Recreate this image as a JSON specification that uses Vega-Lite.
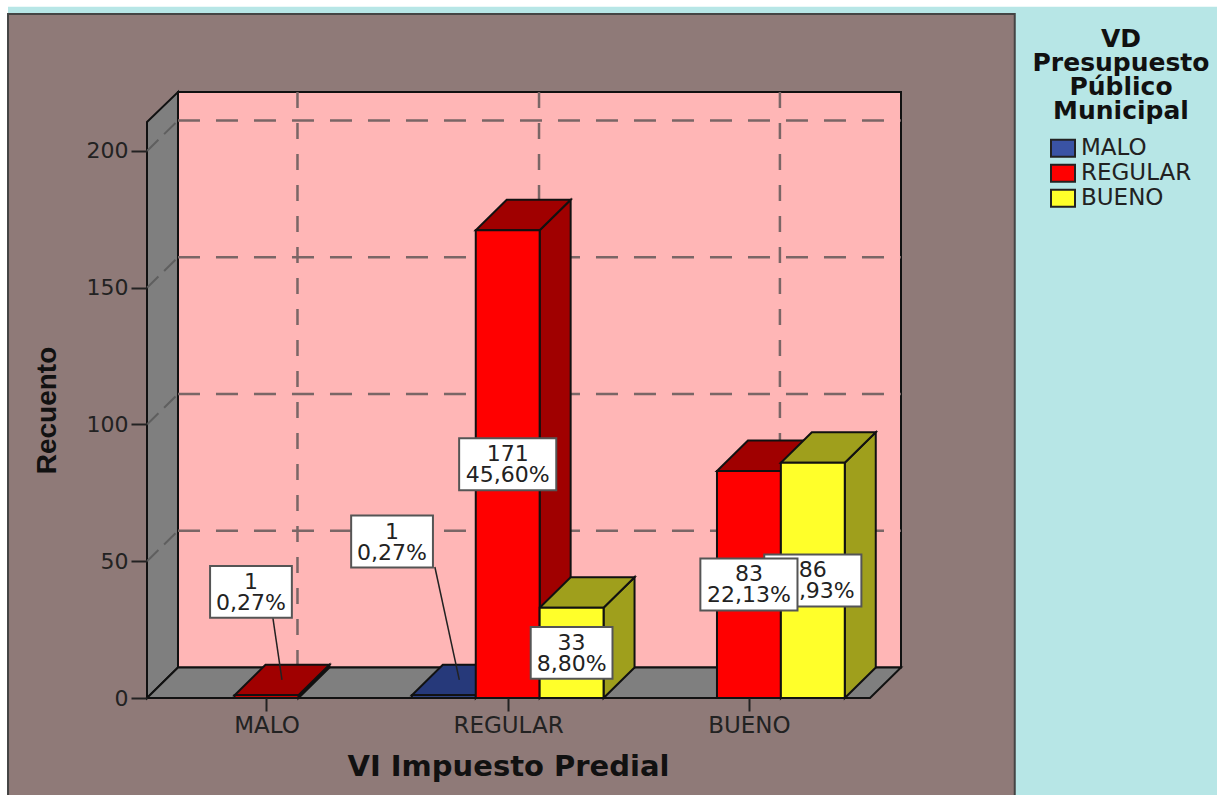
{
"$schema":"https://vega.github.io/schema/vega-lite/v6.json",
"width":754,"height":606,
"autosize":{"type":"none"},
"padding":{"left":147,"top":92,"right":316,"bottom":97},
"background":"#b7e6e6",
"config":{"view":{"stroke":null},"font":"DejaVu Sans","axis":{"grid":false,"domain":false,"title":null}},
"datasets":{
"bars":[
{"categoria":"MALO","serie":"REGULAR","recuento":1,"porcentaje":"0,27%"},
{"categoria":"REGULAR","serie":"MALO","recuento":1,"porcentaje":"0,27%"},
{"categoria":"REGULAR","serie":"REGULAR","recuento":171,"porcentaje":"45,60%"},
{"categoria":"REGULAR","serie":"BUENO","recuento":33,"porcentaje":"8,80%"},
{"categoria":"BUENO","serie":"REGULAR","recuento":83,"porcentaje":"22,13%"},
{"categoria":"BUENO","serie":"BUENO","recuento":86,"porcentaje":"22,93%"}
],
"edge":[{"e":0},{"e":1}],
"ticks":[{"t":50},{"t":100},{"t":150},{"t":200}],
"cats":[{"c":1.87},{"c":5.65},{"c":9.42}],
"one":[{"k":1}]
},
"layer":[
{"data":{"name":"one"},
"transform":[{"calculate":"-2.4","as":"a"},{"calculate":"16.75","as":"b"},{"calculate":"252.7","as":"c"},{"calculate":"257","as":"d"}],
"mark":{"type":"rect","fill":"#ffffff"},
"encoding":{
"x":{"field":"a","type":"quantitative","scale":{"domain":[0,11.8],"nice":false,"zero":false},
"axis":{"values":[1.87,5.65,9.42],"labelExpr":"datum.value<3?'MALO':datum.value<7?'REGULAR':'BUENO'","title":"VI Impuesto Predial","titleFontSize":29,"titleFont":"DejaVu Sans","titleFontWeight":"bold","titleColor":"#111","titleX":361,"titleY":77,"titleAlign":"center","titleBaseline":"alphabetic","labelFontSize":23,"labelColor":"#222","labelPadding":3,"tickSize":13,"tickColor":"#222","tickWidth":2,"domain":false,"grid":false,"zindex":1,"labelFlush":false,"labelOverlap":false}},
"x2":{"field":"b"},
"y":{"field":"c","type":"quantitative","scale":{"domain":[0,221.57],"nice":false,"zero":false},
"axis":{"values":[0,50,100,150,200],"title":"Recuento","titleFontSize":28,"titleFont":"Liberation Sans","titleFontWeight":"bold","titleColor":"#111","titleX":-92,"titleY":318,"titleAlign":"center","titleBaseline":"alphabetic","labelFontSize":22,"labelColor":"#222","labelPadding":3,"tickSize":16,"tickColor":"#222","tickWidth":2,"domain":false,"grid":false,"zindex":1}},
"y2":{"field":"d"}}},
{"data":{"name":"one"},
"transform":[{"calculate":"-2.4","as":"a"},{"calculate":"-2.175","as":"b"},{"calculate":"-36","as":"c"},{"calculate":"257","as":"d"}],
"mark":{"type":"rect","fill":"#ffffff"},
"encoding":{
"x":{"field":"a","type":"quantitative","scale":{"domain":[0,11.8],"nice":false,"zero":false}},
"x2":{"field":"b"},
"y":{"field":"c","type":"quantitative","scale":{"domain":[0,221.57],"nice":false,"zero":false}},
"y2":{"field":"d"}}},
{"data":{"name":"one"},
"transform":[{"calculate":"-2.175","as":"a"},{"calculate":"13.58","as":"b"},{"calculate":"-36","as":"c"},{"calculate":"250.1","as":"d"}],
"mark":{"type":"rect","fill":"#8f7a78","stroke":"#444444","strokeWidth":2},
"encoding":{
"x":{"field":"a","type":"quantitative","scale":{"domain":[0,11.8],"nice":false,"zero":false}},
"x2":{"field":"b"},
"y":{"field":"c","type":"quantitative","scale":{"domain":[0,221.57],"nice":false,"zero":false}},
"y2":{"field":"d"}}},
{"data":{"name":"one"},
"transform":[{"calculate":"0.485","as":"a"},{"calculate":"11.8","as":"b"},{"calculate":"11.15","as":"c"},{"calculate":"221.57","as":"d"}],
"mark":{"type":"rect","fill":"#ffb6b6","stroke":"#111111","strokeWidth":2},
"encoding":{
"x":{"field":"a","type":"quantitative","scale":{"domain":[0,11.8],"nice":false,"zero":false}},
"x2":{"field":"b"},
"y":{"field":"c","type":"quantitative","scale":{"domain":[0,221.57],"nice":false,"zero":false}},
"y2":{"field":"d"}}},
{"data":{"name":"edge"},
"transform":[{"calculate":"datum.e*0.485","as":"xx"},{"calculate":"datum.e*11.15","as":"lo"},{"calculate":"210.6+datum.e*10.97","as":"hi"}],
"mark":{"type":"area","fill":"#7f7f7f","stroke":"#111111","strokeWidth":2},
"encoding":{
"x":{"field":"xx","type":"quantitative","scale":{"domain":[0,11.8],"nice":false,"zero":false}},
"y":{"field":"hi","type":"quantitative","stack":null,"scale":{"domain":[0,221.57],"nice":false,"zero":false}},
"y2":{"field":"lo"}}},
{"data":{"name":"ticks"},
"transform":[{"calculate":"datum.t+11.15","as":"yb"},{"calculate":"0.485","as":"a"},{"calculate":"11.8","as":"b"}],
"mark":{"type":"rule","stroke":"#7a6666","strokeWidth":2.5,"strokeDash":[22,16]},
"encoding":{
"x":{"field":"a","type":"quantitative","scale":{"domain":[0,11.8],"nice":false,"zero":false}},
"x2":{"field":"b"},
"y":{"field":"yb","type":"quantitative","scale":{"domain":[0,221.57],"nice":false,"zero":false}}}},
{"data":{"name":"ticks"},
"transform":[{"calculate":"datum.t+11.15","as":"yb"},{"calculate":"0","as":"a"},{"calculate":"0.485","as":"b"}],
"mark":{"type":"rule","stroke":"#5f5f5f","strokeWidth":2,"strokeDash":[16,8]},
"encoding":{
"x":{"field":"a","type":"quantitative","scale":{"domain":[0,11.8],"nice":false,"zero":false}},
"x2":{"field":"b"},
"y":{"field":"t","type":"quantitative","scale":{"domain":[0,221.57],"nice":false,"zero":false}},
"y2":{"field":"yb"}}},
{"data":{"name":"cats"},
"transform":[{"calculate":"datum.c+0.485","as":"cb"},{"calculate":"221.57","as":"a"},{"calculate":"11.15","as":"b"}],
"mark":{"type":"rule","stroke":"#7a6666","strokeWidth":2.5,"strokeDash":[16,15]},
"encoding":{
"x":{"field":"cb","type":"quantitative","scale":{"domain":[0,11.8],"nice":false,"zero":false}},
"y":{"field":"a","type":"quantitative","scale":{"domain":[0,221.57],"nice":false,"zero":false}},
"y2":{"field":"b"}}},
{"data":{"name":"edge"},
"transform":[{"calculate":"datum.e*11.15","as":"yy"},{"calculate":"datum.e*0.485","as":"xa"},{"calculate":"11.315+datum.e*0.485","as":"xb"}],
"mark":{"type":"area","orient":"horizontal","fill":"#7f7f7f","stroke":"#111111","strokeWidth":2},
"encoding":{
"y":{"field":"yy","type":"quantitative","scale":{"domain":[0,221.57],"nice":false,"zero":false}},
"x":{"field":"xa","type":"quantitative","stack":null,"scale":{"domain":[0,11.8],"nice":false,"zero":false}},
"x2":{"field":"xb"}}},
{"data":{"name":"bars"},
"transform":[
{"calculate":"1.87+3.775*indexof(['MALO','REGULAR','BUENO'],datum.categoria)+indexof(['MALO','REGULAR','BUENO'],datum.serie)-1","as":"xc"},
{"calculate":"datum.xc-0.5","as":"x0"},
{"calculate":"datum.xc+0.5","as":"x1"},
{"calculate":"0","as":"base"},
{"calculate":"datum.serie=='MALO'?'#26397a':(datum.serie=='REGULAR'?'#a00000':'#9f9f1c')","as":"oscuro"}
],
"layer":[
{"transform":[{"calculate":"0","as":"e0"},{"calculate":"1","as":"e1"},{"fold":["e0","e1"],"as":["k","e"]},
{"calculate":"datum.x1+datum.e*0.485","as":"sx"},{"calculate":"datum.e*11.15","as":"lo"},{"calculate":"datum.recuento+datum.e*11.15","as":"hi"}],
"mark":{"type":"area","stroke":"#111111","strokeWidth":2},
"encoding":{
"x":{"field":"sx","type":"quantitative","scale":{"domain":[0,11.8],"nice":false,"zero":false}},
"y":{"field":"hi","type":"quantitative","stack":null,"scale":{"domain":[0,221.57],"nice":false,"zero":false}},
"y2":{"field":"lo"},
"fill":{"field":"oscuro","type":"nominal","scale":null},
"detail":{"field":"categoria","type":"nominal"}}},
{"transform":[{"calculate":"0","as":"e0"},{"calculate":"1","as":"e1"},{"fold":["e0","e1"],"as":["k","e"]},
{"calculate":"datum.x0+datum.e*0.485","as":"xa"},{"calculate":"datum.x1+datum.e*0.485","as":"xb"},{"calculate":"datum.recuento+datum.e*11.15","as":"yy"}],
"mark":{"type":"area","orient":"horizontal","stroke":"#111111","strokeWidth":2},
"encoding":{
"y":{"field":"yy","type":"quantitative","scale":{"domain":[0,221.57],"nice":false,"zero":false}},
"x":{"field":"xa","type":"quantitative","stack":null,"scale":{"domain":[0,11.8],"nice":false,"zero":false}},
"x2":{"field":"xb"},
"fill":{"field":"oscuro","type":"nominal","scale":null},
"detail":{"field":"categoria","type":"nominal"}}},
{"mark":{"type":"rect","stroke":"#111111","strokeWidth":2},
"encoding":{
"x":{"field":"x0","type":"quantitative","scale":{"domain":[0,11.8],"nice":false,"zero":false}},
"x2":{"field":"x1"},
"y":{"field":"base","type":"quantitative","scale":{"domain":[0,221.57],"nice":false,"zero":false}},
"y2":{"field":"recuento"},
"color":{"field":"serie","type":"nominal","scale":{"domain":["MALO","REGULAR","BUENO"],"range":["#3a53a4","#ff0000","#ffff2a"]},
"legend":{"orient":"none","legendX":886,"legendY":-65,"zindex":2,"padding":0,"title":["VD","Presupuesto","Público","Municipal"],"titleFont":"DejaVu Sans","titleFontSize":25,"titleFontWeight":"bold","titleColor":"#111","titleLineHeight":24,"titleLimit":400,"titleAlign":"center","titleAnchor":"middle","titlePadding":12,"symbolType":"M-1,-0.7H1V0.7H-1Z","symbolSize":576,"symbolStrokeColor":"#222","symbolStrokeWidth":2,"symbolOffset":0,"labelOffset":5,"labelFontSize":23,"labelColor":"#222","clipHeight":24.5,"rowPadding":0}}}},
{"transform":[{"filter":"datum.recuento==1"},
{"calculate":"datum.xc+(datum.categoria=='MALO'?0.1:-0.14)","as":"lx"},
{"calculate":"datum.categoria=='MALO'?29.3:47.9","as":"ly"},
{"calculate":"datum.xc+0.2425","as":"ex"},{"calculate":"datum.recuento+5.6","as":"ey"}],
"mark":{"type":"rule","stroke":"#222222","strokeWidth":1.5},
"encoding":{
"x":{"field":"lx","type":"quantitative","scale":{"domain":[0,11.8],"nice":false,"zero":false}},
"x2":{"field":"ex"},
"y":{"field":"ly","type":"quantitative","scale":{"domain":[0,221.57],"nice":false,"zero":false}},
"y2":{"field":"ey"}}},
{"transform":[
{"calculate":"datum.recuento==1?(datum.xc+(datum.categoria=='MALO'?-0.243:-0.81)):datum.xc","as":"lx"},
{"calculate":"datum.recuento==1?(datum.categoria=='MALO'?38.8:57.2):datum.recuento/2","as":"ly"},
{"calculate":"length(datum.porcentaje)==6?0.76:0.64","as":"hw"},
{"calculate":"datum.lx-datum.hw","as":"bx0"},{"calculate":"datum.lx+datum.hw","as":"bx1"},
{"calculate":"datum.ly-9.5","as":"by0"},{"calculate":"datum.ly+9.5","as":"by1"},
{"calculate":"datum.recuento+'\\n'+datum.porcentaje","as":"txt"},
{"filter":"datum.recuento!=83"}],
"layer":[
{"mark":{"type":"rect","fill":"#ffffff","stroke":"#555555","strokeWidth":2},
"encoding":{
"x":{"field":"bx0","type":"quantitative","scale":{"domain":[0,11.8],"nice":false,"zero":false}},
"x2":{"field":"bx1"},
"y":{"field":"by0","type":"quantitative","scale":{"domain":[0,221.57],"nice":false,"zero":false}},
"y2":{"field":"by1"}}},
{"mark":{"type":"text","lineBreak":"\n","lineHeight":21,"fontSize":22,"dy":-10,"fill":"#222222","align":"center","baseline":"middle"},
"encoding":{
"x":{"field":"lx","type":"quantitative","scale":{"domain":[0,11.8],"nice":false,"zero":false}},
"y":{"field":"ly","type":"quantitative","scale":{"domain":[0,221.57],"nice":false,"zero":false}},
"text":{"field":"txt","type":"nominal"}}}
]},
{"transform":[
{"filter":"datum.recuento==83"},
{"calculate":"datum.xc","as":"lx"},
{"calculate":"datum.recuento/2","as":"ly"},
{"calculate":"datum.lx-0.76","as":"bx0"},{"calculate":"datum.lx+0.76","as":"bx1"},
{"calculate":"datum.ly-9.5","as":"by0"},{"calculate":"datum.ly+9.5","as":"by1"},
{"calculate":"datum.recuento+'\\n'+datum.porcentaje","as":"txt"}],
"layer":[
{"mark":{"type":"rect","fill":"#ffffff","stroke":"#555555","strokeWidth":2},
"encoding":{
"x":{"field":"bx0","type":"quantitative","scale":{"domain":[0,11.8],"nice":false,"zero":false}},
"x2":{"field":"bx1"},
"y":{"field":"by0","type":"quantitative","scale":{"domain":[0,221.57],"nice":false,"zero":false}},
"y2":{"field":"by1"}}},
{"mark":{"type":"text","lineBreak":"\n","lineHeight":21,"fontSize":22,"dy":-10,"fill":"#222222","align":"center","baseline":"middle"},
"encoding":{
"x":{"field":"lx","type":"quantitative","scale":{"domain":[0,11.8],"nice":false,"zero":false}},
"y":{"field":"ly","type":"quantitative","scale":{"domain":[0,221.57],"nice":false,"zero":false}},
"text":{"field":"txt","type":"nominal"}}}
]}
]}
]
}
